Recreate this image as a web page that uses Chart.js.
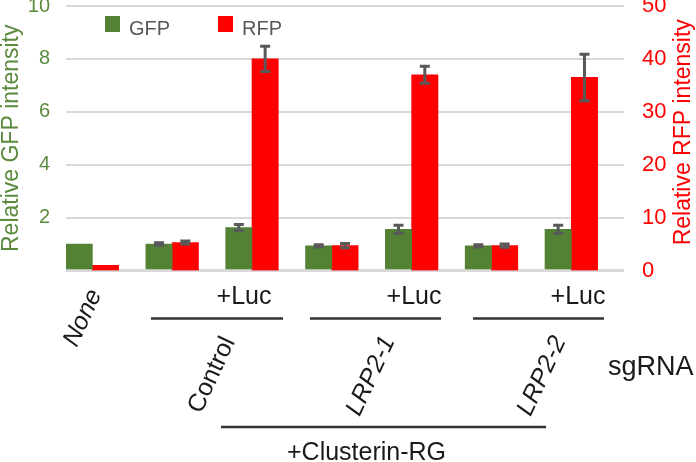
<!DOCTYPE html>
<html>
<head>
<meta charset="utf-8">
<script src="https://cdn.jsdelivr.net/npm/chart.js@4"></script>
<style>
  html, body { margin: 0; padding: 0; background: #fff; }
  #wrap { width: 696px; height: 462px; }
</style>
</head>
<body>
<div id="wrap"><canvas id="chart"></canvas></div>
<script>
// data
const categories = ["None", "Control", "Control +Luc", "LRP2-1", "LRP2-1 +Luc", "LRP2-2", "LRP2-2 +Luc"];
const gfp = [1.0, 1.0, 1.62, 0.93, 1.56, 0.93, 1.56];
const gfpErr = [0, 0.05, 0.12, 0.04, 0.15, 0.04, 0.15];
const rfp = [1.0, 5.3, 40, 4.7, 37, 4.7, 36.5];
const rfpErr = [0, 0.3, 2.4, 0.4, 1.6, 0.3, 4.4];
const gfpTicks = [2, 4, 6, 8, 10];
const rfpTicks = [0, 10, 20, 30, 40, 50];

const FONT = "'Liberation Sans', Arial, sans-serif";
const GREEN = "#548235";
const RED = "#ff0000";

/**
 * Error bars on top of each bar.
 */
const errorBars = {
  id: "errorBars",
  afterDatasetsDraw(chart) {
    const ctx = chart.ctx;
    [[gfp, gfpErr], [rfp, rfpErr]].forEach(([vals, errs], d) => {
      const meta = chart.getDatasetMeta(d);
      const scale = chart.scales[meta.yAxisID];
      meta.data.forEach((bar, i) => {
        if (!errs[i]) return;
        const top = scale.getPixelForValue(vals[i] + errs[i]);
        const bot = scale.getPixelForValue(vals[i] - errs[i]);
        ctx.save();
        ctx.strokeStyle = "#595959";
        ctx.lineWidth = 3;
        ctx.beginPath();
        ctx.moveTo(bar.x, top);
        ctx.lineTo(bar.x, bot);
        ctx.moveTo(bar.x - 5, top);
        ctx.lineTo(bar.x + 5, top);
        ctx.moveTo(bar.x - 5, bot);
        ctx.lineTo(bar.x + 5, bot);
        ctx.stroke();
        ctx.restore();
      });
    });
  },
};

/**
 * Legend inside the plot, right axis title, and the sample labels below.
 */
const annotations = {
  id: "annotations",
  afterDraw(chart) {
    const ctx = chart.ctx;
    ctx.save();

    // legend
    const legendX = [105, 218];
    chart.data.datasets.forEach((ds, i) => {
      ctx.fillStyle = ds.backgroundColor;
      ctx.fillRect(legendX[i], 16, 15, 16);
      ctx.fillStyle = "#595959";
      ctx.font = "20px " + FONT;
      ctx.textBaseline = "alphabetic";
      ctx.textAlign = "left";
      ctx.fillText(ds.label, legendX[i] + 24, 35);
    });

    // right axis title, reading upwards
    const y1 = chart.scales.y1;
    ctx.save();
    ctx.translate(684, (y1.top + y1.bottom) / 2 - 6);
    ctx.rotate(-Math.PI / 2);
    ctx.fillStyle = RED;
    ctx.font = "23px " + FONT;
    ctx.textAlign = "center";
    ctx.textBaseline = "middle";
    ctx.fillText("Relative RFP intensity", 0, 0);
    ctx.restore();

    ctx.fillStyle = "#1a1a1a";
    ctx.strokeStyle = "#333";
    ctx.lineWidth = 2.5;

    // +Luc labels and the lines under them
    ctx.font = "25px " + FONT;
    ctx.textAlign = "center";
    ctx.textBaseline = "alphabetic";
    [244, 414, 578].forEach((x) => ctx.fillText("+Luc", x, 304));
    [[151, 283], [310, 441], [473, 604]].forEach(([a, b]) => {
      ctx.beginPath();
      ctx.moveTo(a, 318.5);
      ctx.lineTo(b, 318.5);
      ctx.stroke();
    });

    // rotated sample names
    const rotated = [
      ["None", 83, 318, true],
      ["Control", 212, 375, false],
      ["LRP2-1", 371, 376, true],
      ["LRP2-2", 542, 376, true],
    ];
    rotated.forEach(([t, x, y, italic]) => {
      ctx.save();
      ctx.translate(x, y);
      ctx.rotate((-65 * Math.PI) / 180);
      ctx.font = (italic ? "italic " : "") + "25px " + FONT;
      ctx.textAlign = "center";
      ctx.textBaseline = "middle";
      ctx.fillText(t, 0, 0);
      ctx.restore();
    });

    ctx.font = "27px " + FONT;
    ctx.textAlign = "left";
    ctx.fillText("sgRNA", 608, 375);

    ctx.beginPath();
    ctx.moveTo(221, 427);
    ctx.lineTo(546, 427);
    ctx.stroke();

    ctx.font = "25px " + FONT;
    ctx.fillText("+Clusterin-RG", 287, 460);

    ctx.restore();
  },
};

const fixAxis = (w) => (scale) => {
  scale.width = w;
  scale.paddingTop = 0;
  scale.paddingBottom = 0;
};

new Chart(document.getElementById("chart"), {
  type: "bar",
  data: {
    datasets: [
      {
        label: "GFP",
        data: gfp.map((v, i) => ({ x: i, y: v })),
        backgroundColor: GREEN,
        yAxisID: "y",
      },
      {
        label: "RFP",
        data: rfp.map((v, i) => ({ x: i, y: v })),
        backgroundColor: RED,
        yAxisID: "y1",
      },
    ],
  },
  options: {
    responsive: true,
    maintainAspectRatio: false,
    animation: false,
    layout: { padding: { top: 6, bottom: 191.5, left: 0, right: 0 } },
    datasets: {
      bar: { barThickness: 26.3, borderWidth: 0 },
    },
    plugins: { legend: { display: false }, tooltip: { enabled: false } },
    scales: {
      x: {
        type: "linear",
        offset: false,
        min: -0.33,
        max: 6.66,
        display: false,
      },
      y: {
        position: "left",
        min: 0,
        max: 10,
        afterFit: fixAxis(66),
        afterBuildTicks: (s) => { s.ticks = [0, ...gfpTicks].map((v) => ({ value: v })); },
        border: { display: false },
        grid: {
          color: "#d9d9d9",
          lineWidth: (c) => (c.tick && c.tick.value === 0 ? 3 : 2),
          drawTicks: false,
        },
        ticks: {
          padding: 16,
          color: "#5b8a3c",
          font: { family: FONT, size: 20 },
          callback: (v) => (v === 0 ? "" : v),
        },
        title: {
          display: true,
          text: "Relative GFP intensity",
          color: "#5b8a3c",
          padding: { top: 2, bottom: 0 },
          font: { family: FONT, size: 23, lineHeight: 0.83 },
        },
      },
      y1: {
        position: "right",
        min: 0,
        max: 50,
        afterFit: fixAxis(72),
        afterBuildTicks: (s) => { s.ticks = rfpTicks.map((v) => ({ value: v })); },
        border: { display: false },
        grid: { display: false, drawTicks: false },
        ticks: {
          padding: 18,
          color: RED,
          font: { family: FONT, size: 22 },
        },
      },
    },
  },
  plugins: [errorBars, annotations],
});
</script>
</body>
</html>
